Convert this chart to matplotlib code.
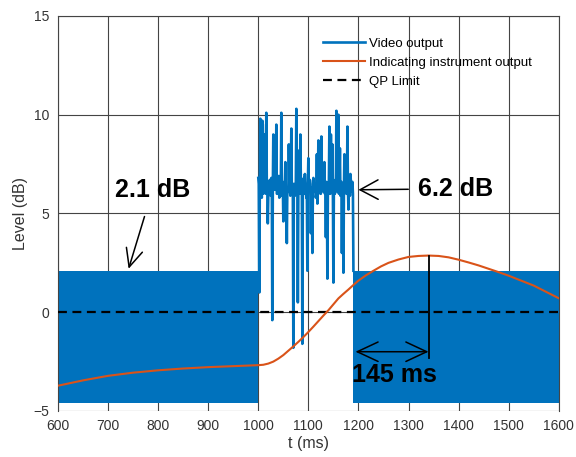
import numpy as np
import matplotlib
matplotlib.use("Agg")
import matplotlib.pyplot as plt

# ── Colores (estilo MATLAB) ──────────────────────────────────────────────────
AZUL    = "#0072BD"
NARANJA = "#D95319"
GRIS    = "#444444"

plt.rcParams.update({
    "font.family": ["Liberation Sans", "DejaVu Sans"],
    "font.size": 10,
})

# ── Datos ────────────────────────────────────────────────────────────────────
# Envolvente de la salida de vídeo (oscilación rápida, se ve como bloque)
env1_t  = [600, 1000]
env2_t  = [1190, 1600]
env_lo  = [-4.6, -4.6]
env_hi  = [2.1, 2.1]

# Tramo ruidoso de la salida de vídeo (1000–1190 ms), muestras pares
video_t_par = list(range(1000, 1192, 2))
video_y_par = [
    6.8, 1.0, 9.8, 6.3, 9.7, 6.0, 6.6, 6.2, 10.1, 6.4,
    5.9, 6.5, 6.1, 6.8, -0.4, 9.0, 6.2, 6.6, 9.5, 6.0,
    6.3, 5.8, 6.4, 10.1, 6.2, 4.6, 6.5, 7.6, 6.0, 6.3,
    6.1, 6.6, 5.9, 9.3, 6.2, -1.8, 6.4, 6.0, 10.3, 6.5,
    6.1, 8.2, 9.0, 6.3, -1.6, 6.6, 6.0, 6.4, 5.8, 2.1,
    7.8, 6.2, 6.5, 6.0, 3.0, 6.8, 6.1, 6.4, 6.0, 5.5,
    8.7, 6.3, 6.0, 8.9, 6.5, 6.1, 7.6, 6.2, 6.6, 1.7,
    6.3, 9.4, 6.0, 6.4, 8.5, 1.5, 6.2, 6.7, 10.2, 6.1,
    10.0, 6.4, 5.9, 6.6, 6.2, 2.0, 8.0, 6.3, 6.0, 9.4,
    5.2, 6.5, 7.0, 6.1, 6.6, 2.1,
]
# muestras impares
video_t_impar = list(range(1001, 1190, 2))
video_y_impar = [
    6.5, 6.2, 6.9, 5.8, 9.5, 6.4, 9.0, 6.0, 6.5, 4.5,
    6.3, 6.7, 5.9, 6.4, 6.1, 6.6, 8.0, 6.2, 6.0, 6.5,
    6.9, 6.1, 6.3, 5.9, 6.6, 6.0, 6.4, 6.1, 3.5, 6.3,
    8.5, 6.2, 6.7, 6.0, 6.3, 6.5, 5.9, 6.6, 6.2, 0.5,
    6.4, 6.0, 6.6, 6.1, 6.3, 6.8, 7.0, 6.2, 6.0, 6.5,
    6.1, 6.7, 4.0, 6.3, 6.0, 6.5, 6.2, 5.8, 8.0, 6.4,
    6.1, 6.6, 6.0, 6.3, 6.8, 6.2, 6.0, 3.8, 6.4, 6.1,
    6.6, 6.0, 9.0, 6.3, 6.1, 6.5, 6.0, 6.4, 6.8, 6.2,
    6.0, 8.3, 6.3, 3.0, 6.5, 6.1, 6.6, 7.2, 6.0, 6.4,
    6.2, 5.9, 6.6, 6.3, 6.0,
]

# Salida del instrumento indicador
inst_t = [600, 650, 700, 750, 800, 850, 900, 950, 1000, 1010, 1020, 1030,
          1040, 1050, 1060, 1070, 1080, 1090, 1100, 1110, 1120, 1130, 1140,
          1150, 1160, 1170, 1180, 1190, 1200, 1215, 1230, 1245, 1260, 1280,
          1300, 1320, 1340, 1360, 1380, 1400, 1420, 1440, 1460, 1480, 1500,
          1525, 1550, 1575, 1600]
inst_y = [-3.72, -3.45, -3.22, -3.06, -2.94, -2.85, -2.78, -2.73, -2.68,
          -2.66, -2.6, -2.5, -2.35, -2.17, -1.95, -1.73, -1.5, -1.26, -1.0,
          -0.73, -0.45, -0.17, 0.1, 0.4, 0.7, 0.93, 1.15, 1.38, 1.6, 1.87,
          2.1, 2.32, 2.5, 2.67, 2.8, 2.85, 2.87, 2.85, 2.78, 2.66, 2.52,
          2.37, 2.2, 2.03, 1.85, 1.6, 1.35, 1.03, 0.71]

qp_t = [600, 1600]
qp_y = [0, 0]

t_pico, y_pico = 1340, 2.87
t_fin_rafaga = 1194

# ordenar el tramo ruidoso por tiempo
vt = np.array(video_t_par + video_t_impar)
vy = np.array(video_y_par + video_y_impar)
orden = np.argsort(vt)
vt, vy = vt[orden], vy[orden]

# ── Figura ───────────────────────────────────────────────────────────────────
fig = plt.figure(figsize=(5.76, 4.57), dpi=100)
ax = fig.add_axes([0.1007, 0.1007, 0.8693, 0.8643])

ax.fill_between(env1_t, env_lo, env_hi, color=AZUL, lw=0, zorder=2)
ax.fill_between(env2_t, env_lo, env_hi, color=AZUL, lw=0, zorder=2)
ax.plot(vt, vy, color=AZUL, lw=1.9, zorder=2, label="Video output")
ax.plot(inst_t, inst_y, color=NARANJA, lw=1.5, zorder=4,
        label="Indicating instrument output")
ax.plot(qp_t, qp_y, color="black", lw=1.6, ls="--", dashes=(4, 2.5),
        zorder=3, label="QP Limit")

# Anotaciones
ax.annotate("2.1 dB", xy=(741, 2.2), xytext=(789, 6.2),
            ha="center", va="center", fontsize=18, fontweight="bold",
            arrowprops=dict(arrowstyle="->,head_length=0.65,head_width=0.3",
                            mutation_scale=20, color="black", lw=1.1,
                            shrinkA=9, shrinkB=0))
ax.annotate("6.2 dB", xy=(1200, 6.2), xytext=(1394, 6.25),
            ha="center", va="center", fontsize=18, fontweight="bold",
            arrowprops=dict(arrowstyle="->,head_length=0.65,head_width=0.35",
                            mutation_scale=20, color="black", lw=1.1,
                            shrinkA=5, shrinkB=0))
ax.plot([t_pico, t_pico], [y_pico, -2.3], color="black", lw=1.3, zorder=5)
ax.annotate("", xy=(t_fin_rafaga, -2.0), xytext=(t_pico, -2.0),
            arrowprops=dict(arrowstyle="<->,head_length=0.75,head_width=0.35",
                            mutation_scale=20, color="black", lw=1.1,
                            shrinkA=0, shrinkB=0), zorder=5)
ax.text(1188, -3.2, "145 ms", ha="left", va="center",
        fontsize=18, fontweight="bold", zorder=5)

# Ejes
ax.set_xlim(600, 1600)
ax.set_ylim(-5, 15)
ax.set_xticks(range(600, 1601, 100))
ax.set_yticks(range(-5, 16, 5))
ax.grid(True, color=GRIS, lw=0.8, zorder=0)
ax.set_axisbelow(True)
for s in ["top", "right", "left"]:
    ax.spines[s].set_color(GRIS)
    ax.spines[s].set_linewidth(0.8)
ax.spines["bottom"].set_visible(False)
ax.tick_params(length=0, labelsize=10, labelcolor="#333333", pad=6)
ax.set_xlabel("t (ms)", fontsize=11.5, color="#333333", labelpad=2)
ax.set_ylabel("Level (dB)", fontsize=11.5, color="#333333", labelpad=4)

ax.legend(loc="upper left", bbox_to_anchor=(0.516, 0.962), frameon=False,
          borderpad=0, handlelength=3.2, handletextpad=0.3,
          labelspacing=0.5, fontsize=9.5)

fig.savefig("out.png", dpi=100)
